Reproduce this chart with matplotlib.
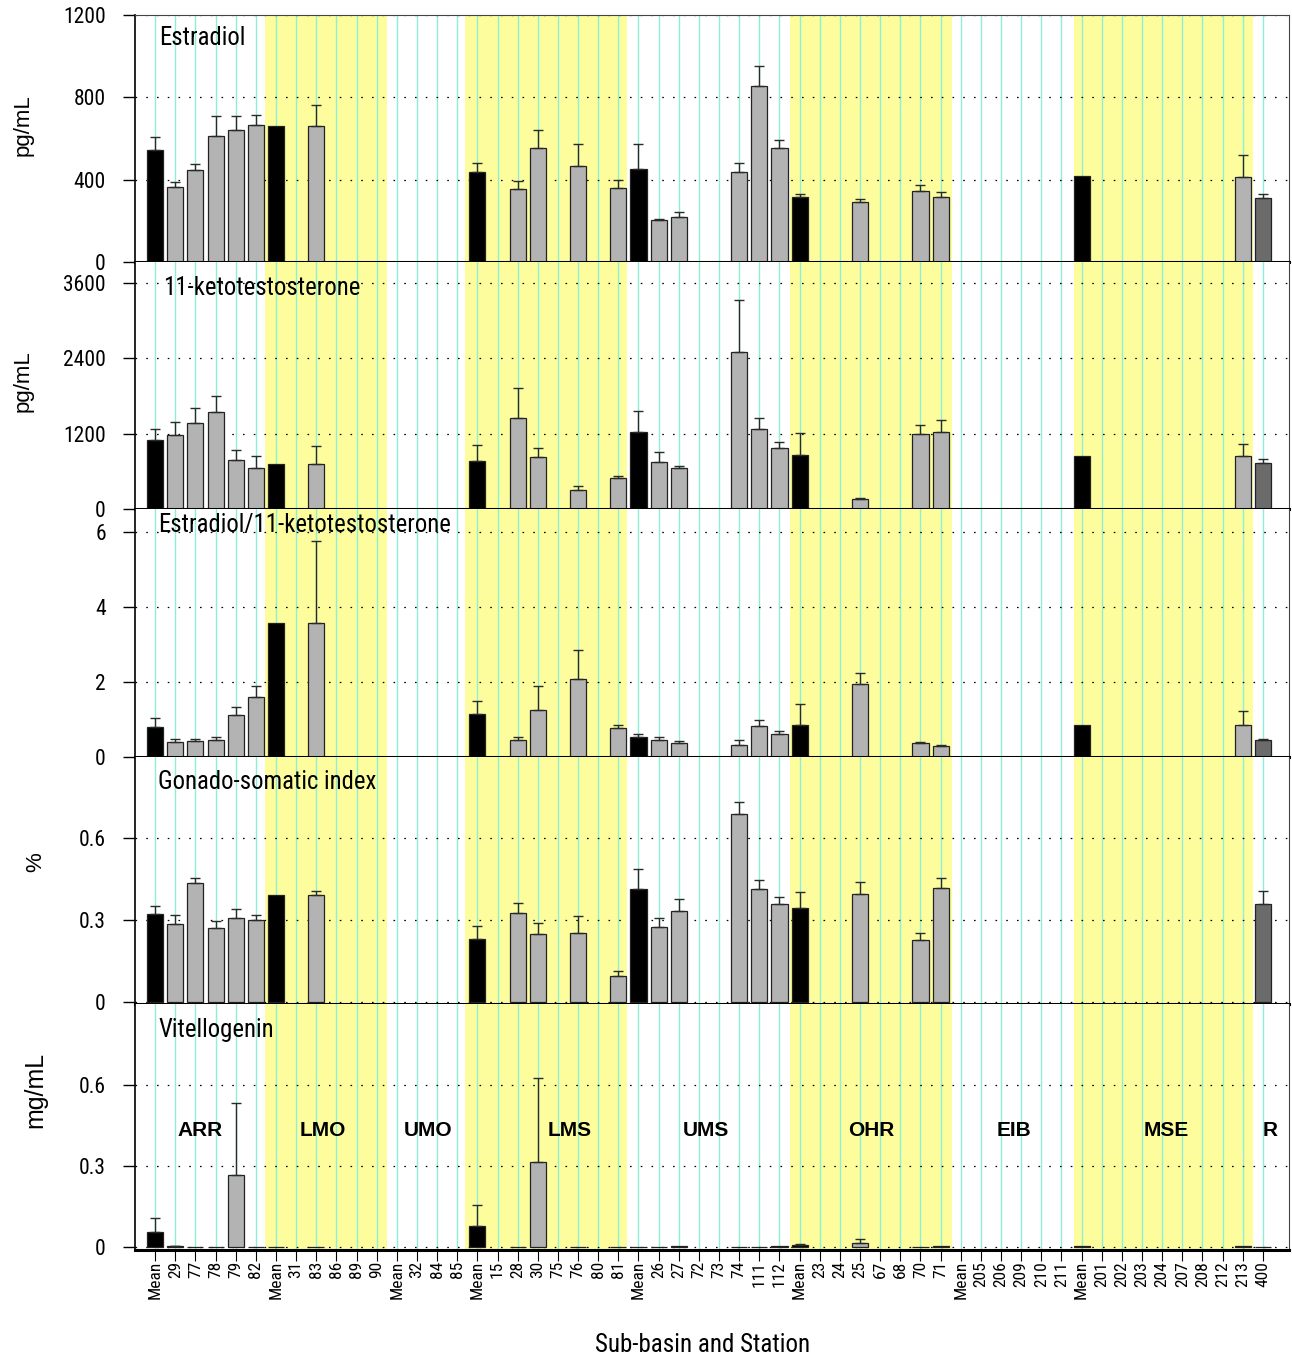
import os
import numpy as np
import matplotlib
matplotlib.use("Agg")
import matplotlib.pyplot as plt
from matplotlib import font_manager
from matplotlib.font_manager import FontProperties

# stations along the x axis, grouped by sub-basin
stations = ["Mean", "29", "77", "78", "79", "82",
            "Mean", "31", "83", "86", "89", "90",
            "Mean", "32", "84", "85",
            "Mean", "15", "28", "30", "75", "76", "80", "81",
            "Mean", "26", "27", "72", "73", "74", "111", "112",
            "Mean", "23", "24", "25", "67", "68", "70", "71",
            "Mean", "205", "206", "209", "210", "211",
            "Mean", "201", "202", "203", "204", "207", "208", "212", "213",
            "400"]
basins = ["ARR", "LMO", "UMO", "LMS", "UMS", "OHR", "EIB", "MSE", "R"]
basin_pos = [2.25, 8.35, 13.55, 20.6, 27.35, 35.55, 42.65, 50.2, 55.35]
shaded = [(5.45, 11.5), (15.4, 23.45), (31.5, 39.55), (45.6, 54.5)]

N = None
e2 = [543, 362, 446, 611, 642, 665,
      661, N, 661, N, N, N,
      N, N, N, N,
      435, N, 356, 555, N, 464, N, 361,
      451, 202, 220, N, N, 435, 855, 552,
      314, N, N, 290, N, N, 344, 314,
      N, N, N, N, N, N,
      416, N, N, N, N, N, N, N, 414,
      309]
e2_err = [62, 25, 28, 99, 68, 48,
          N, N, 101, N, N, N,
          N, N, N, N,
          45, N, 38, 87, N, 108, N, 35,
          121, 8, 21, N, N, 45, 99, 43,
          17, N, N, 17, N, N, 28, 24,
          N, N, N, N, N, N,
          N, N, N, N, N, N, N, N, 108,
          19]

kt = [1106, 1175, 1371, 1541, 778, 661,
      715, N, 715, N, N, N,
      N, N, N, N,
      772, N, 1455, 826, N, 311, N, 492,
      1233, 747, 651, N, N, 2494, 1276, 979,
      868, N, N, 159, N, N, 1191, 1233,
      N, N, N, N, N, N,
      847, N, N, N, N, N, N, N, 842,
      736]
kt_err = [165, 207, 233, 259, 159, 181,
          N, N, 286, N, N, N,
          N, N, N, N,
          250, N, 467, 153, N, 64, N, 42,
          333, 168, 42, N, N, 826, 179, 85,
          344, N, N, 26, N, N, 153, 191,
          N, N, N, N, N, N,
          N, N, N, N, N, N, N, N, 201,
          68]

ratio = [0.79, 0.40, 0.42, 0.445, 1.11, 1.59,
         3.58, N, 3.58, N, N, N,
         N, N, N, N,
         1.14, N, 0.46, 1.25, N, 2.07, N, 0.76,
         0.52, 0.445, 0.365, N, N, 0.33, 0.83, 0.62,
         0.86, N, N, 1.95, N, N, 0.36, 0.29,
         N, N, N, N, N, N,
         0.85, N, N, N, N, N, N, N, 0.84,
         0.46]
ratio_err = [0.25, 0.08, 0.06, 0.10, 0.22, 0.29,
             N, N, 2.18, N, N, N,
             N, N, N, N,
             0.35, N, 0.08, 0.65, N, 0.79, N, 0.09,
             0.09, 0.095, 0.055, N, N, 0.11, 0.16, 0.07,
             0.55, N, N, 0.30, N, N, 0.05, 0.04,
             N, N, N, N, N, N,
             N, N, N, N, N, N, N, N, 0.38,
             0.02]

gsi = [0.321, 0.285, 0.436, 0.270, 0.309, 0.299,
       0.391, N, 0.391, N, N, N,
       N, N, N, N,
       0.231, N, 0.326, 0.249, N, 0.253, N, 0.095,
       0.414, 0.275, 0.334, N, N, 0.688, 0.415, 0.358,
       0.345, N, N, 0.394, N, N, 0.225, 0.416,
       N, N, N, N, N, N,
       N, N, N, N, N, N, N, N, N,
       0.359]
gsi_err = [0.029, 0.034, 0.019, 0.025, 0.033, 0.019,
           N, N, 0.015, N, N, N,
           N, N, N, N,
           0.047, N, 0.038, 0.039, N, 0.063, N, 0.017,
           0.073, 0.033, 0.042, N, N, 0.044, 0.033, 0.026,
           0.059, N, N, 0.047, N, N, 0.027, 0.039,
           N, N, N, N, N, N,
           N, N, N, N, N, N, N, N, N,
           0.047]

vtg = [0.054, 0.003, 0.001, 0.001, 0.268, 0.001,
       0.001, N, 0.001, N, N, N,
       N, N, N, N,
       0.079, N, 0.001, 0.315, N, 0.001, N, 0.001,
       0.001, 0.001, 0.002, N, N, 0.001, 0.001, 0.003,
       0.009, N, N, 0.015, N, N, 0.001, 0.002,
       N, N, N, N, N, N,
       0.002, N, N, N, N, N, N, N, 0.002,
       0.001]
vtg_err = [0.053, 0.002, N, N, 0.267, N,
           N, N, N, N, N, N,
           N, N, N, N,
           0.077, N, N, 0.312, N, N, N, N,
           N, N, N, N, N, N, N, N,
           0.002, N, N, 0.013, N, N, N, N,
           N, N, N, N, N, N,
           N, N, N, N, N, N, N, N, N,
           N]


def pick_narrow(bold=False):
    # look for a narrow / condensed face among the installed fonts
    prefs = ["liberationsansnarrow", "robotocondensed", "roboto_condensed",
             "dejavusanscondensed", "notosans-condensed", "notosanscondensed",
             "opensans_condensed", "opensanscondensed", "condensed", "narrow"]
    target = 700 if bold else 400
    best, best_key = None, None
    for f in font_manager.fontManager.ttflist:
        fn = os.path.basename(f.fname).lower().replace(" ", "")
        if "narrow" not in fn and "condensed" not in fn:
            continue
        if "italic" in fn or "oblique" in fn or f.style != "normal":
            continue
        if "semicondensed" in fn or "extracondensed" in fn or "ultracondensed" in fn:
            continue
        try:
            w = int(f.weight)
        except (TypeError, ValueError):
            w = {"bold": 700}.get(str(f.weight).lower(), 400)
        rank = next(i for i, p in enumerate(prefs) if p in fn or p == "narrow")
        key = (rank, abs(w - target))
        if best_key is None or key < best_key:
            best, best_key = f.fname, key
    return best


reg_file = pick_narrow(False)


def nf(size):
    if reg_file:
        return FontProperties(fname=reg_file, size=size)
    return FontProperties(family="DejaVu Sans", size=size * 0.85)


panels = [
    ("Estradiol", e2, e2_err, (0, 1200), [0, 400, 800, 1200], ["0", "400", "800", "1200"], "pg/mL"),
    ("11-ketotestosterone", kt, kt_err, (0, 3929), [0, 1200, 2400, 3600], ["0", "1200", "2400", "3600"], "pg/mL"),
    ("Estradiol/11-ketotestosterone", ratio, ratio_err, (0, 6.6), [0, 2, 4, 6], ["0", "2", "4", "6"], ""),
    ("Gonado-somatic index", gsi, gsi_err, (-0.0085, 0.899), [0, 0.3, 0.6], ["0", "0.3", "0.6"], "%"),
    ("Vitellogenin", vtg, vtg_err, (-0.011, 0.9), [0, 0.3, 0.6], ["0", "0.3", "0.6"], "mg/mL"),
]
# pixel layout of the panels (top, bottom) and title / label spots
rows_px = [(15, 262), (262, 509.3), (509.3, 757), (757, 1004), (1004, 1250)]
title_xy = [(0.021, 0.907), (0.024, 0.895), (0.020, 0.935), (0.020, 0.899), (0.020, 0.894)]
ylab_pos = [(-0.088, 0.555), (-0.088, 0.52), None, (-0.077, 0.575), (-0.076, 0.65)]

W, H = 1292, 1359
fig = plt.figure(figsize=(W / 100, H / 100), dpi=100)
x = np.arange(len(stations))
colors = []
for s in stations:
    if s == "Mean":
        colors.append("black")
    elif s == "400":
        colors.append("#6b6b6b")
    else:
        colors.append("#b3b3b3")

left, right = 135 / W, 1289 / W
for i, (title, vals, errs, ylim, yt, ytl, ylab) in enumerate(panels):
    top_px, bot_px = rows_px[i]
    ax = fig.add_axes([left, 1 - bot_px / H, right - left, (bot_px - top_px) / H])
    v = np.array([np.nan if a is None else a for a in vals], dtype=float)
    e = np.array([np.nan if a is None else a for a in errs], dtype=float)

    for a, b in shaded:
        ax.axvspan(a, b, color="#fdfd9e", lw=0, zorder=0)
    for xi in x:
        ax.axvline(xi, color="#8eefd6", lw=1.0, zorder=1)
    for t in yt:
        ax.axhline(t, color="black", lw=0.9, ls=(0, (1.3, 7.3)), zorder=1.5)

    ok = ~np.isnan(v)
    ax.bar(x[ok], v[ok], width=0.8, color=[colors[k] for k in np.where(ok)[0]],
           edgecolor="#222222", linewidth=0.9, zorder=2)
    ek = ~np.isnan(e)
    ax.errorbar(x[ek], v[ek], yerr=[np.zeros(ek.sum()), e[ek]], fmt="none",
                ecolor="#2a2a2a", elinewidth=1, capsize=3.6, capthick=1, zorder=3)

    ax.set_xlim(-1, 56.3)
    ax.set_ylim(*ylim)
    ax.set_yticks(yt)
    ax.set_yticklabels(ytl, fontproperties=nf(15.5))
    ax.tick_params(axis="y", direction="out", length=9, width=1, pad=12)
    ax.text(title_xy[i][0], title_xy[i][1], title, transform=ax.transAxes,
            fontproperties=nf(17.8), va="center", ha="left", zorder=5)
    if ylab:
        ax.set_ylabel(ylab, fontfamily="Liberation Sans", fontsize=16 if i < 4 else 18)
        ax.yaxis.set_label_coords(*ylab_pos[i])

    for side in ["top", "right"]:
        ax.spines[side].set_color("#444444")
        ax.spines[side].set_linewidth(0.8)
    if i > 0:
        ax.spines["top"].set_visible(False)
    ax.spines["left"].set_linewidth(1.2)
    ax.spines["bottom"].set_linewidth(2.2)
    ax.spines["bottom"].set_zorder(4)

    if i < 4:
        ax.set_xticks([])
    else:
        ax.set_xticks(x)
        ax.set_xticklabels(stations, rotation=90, fontproperties=nf(12.5))
        ax.tick_params(axis="x", direction="out", length=8, width=0.8, pad=0)
        for name, bx in zip(basins, basin_pos):
            ax.text(bx, 0.433, name, fontfamily="Liberation Sans", fontweight="bold",
                    fontsize=15, ha="center", va="center", zorder=5)

fig.text(703 / W, 1 - 1345 / H, "Sub-basin and Station", fontproperties=nf(18),
         ha="center", va="center")

fig.savefig("out.png", dpi=100)
